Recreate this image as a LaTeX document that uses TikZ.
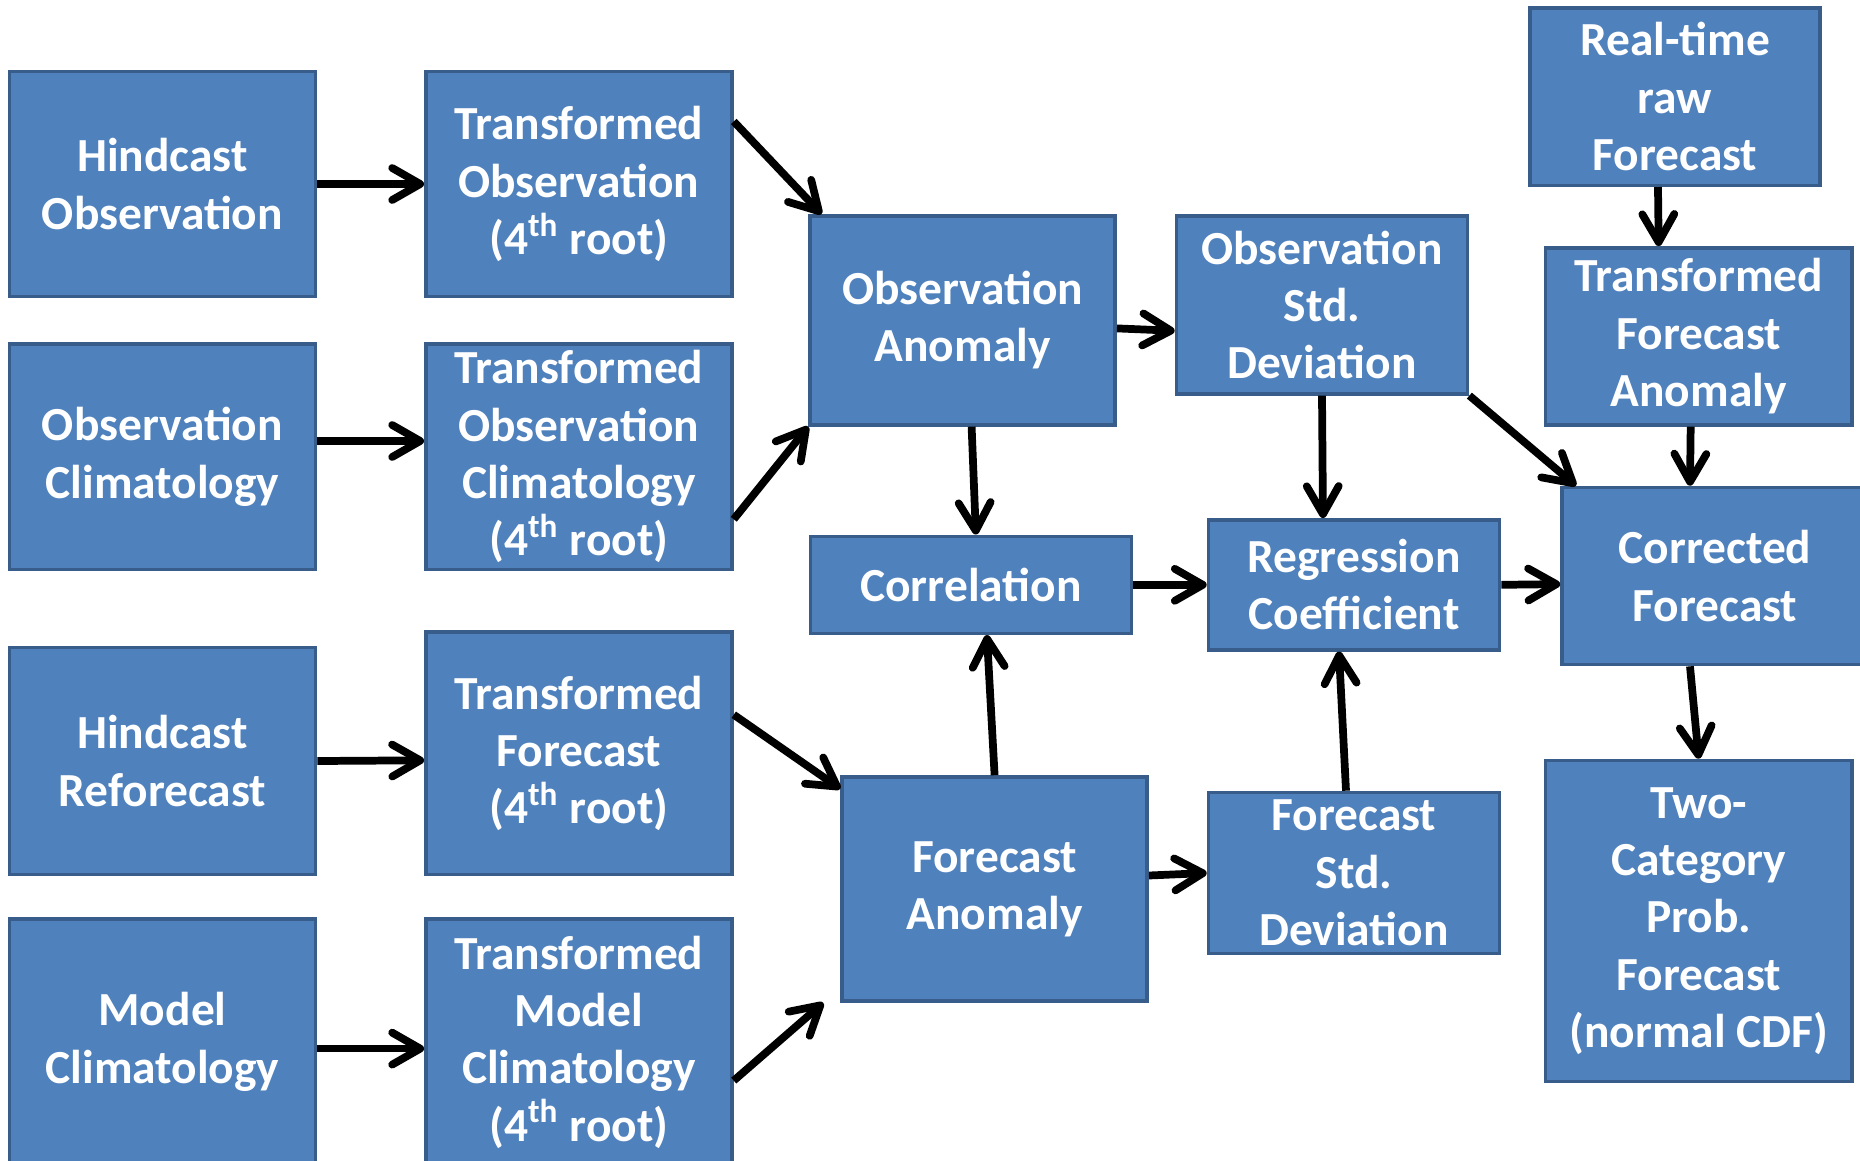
\documentclass[tikz,border=0pt]{standalone}
\usepackage{fontspec}
\setmainfont{Carlito}
\usetikzlibrary{arrows.meta}
\definecolor{boxfill}{RGB}{79,129,189}
\definecolor{boxline}{RGB}{56,93,138}

\begin{document}
\begin{tikzpicture}[x=0.01cm,y=-0.01cm,>={Straight Barb[length=0.28cm,width=0.32cm,round]}]
	\tikzstyle{box}=[rectangle,fill=boxfill,draw=boxline,line width=1pt,text=white,inner sep=0pt,align=center,font=\fontsize{13.5}{16.3}\selectfont\bfseries]
	\tikzstyle{arr}=[->,line width=2.2pt,black]
	\useasboundingbox (0,0) rectangle (1860,1160);
	% raw inputs
	\node[box,minimum width=3.06cm,minimum height=2.25cm](in-1) at (162.5,184){Hindcast\\Observation};
	\node[box,minimum width=3.06cm,minimum height=2.25cm](in-2) at (162.5,456.7){Observation\\Climatology};
	\node[box,minimum width=3.06cm,minimum height=2.27cm](in-3) at (162.5,761){Hindcast\\Reforecast};
	\node[box,minimum width=3.06cm,minimum height=2.46cm](in-4) at (162.5,1042){Model\\Climatology};
	% 4th root
	\node[box,minimum width=3.06cm,minimum height=2.25cm](tr-1) at (578.9,184){Transformed\\Observation\\(4\textsuperscript{th} root)};
	\node[box,minimum width=3.06cm,minimum height=2.25cm](tr-2) at (578.9,456.7){Transformed\\Observation\\Climatology\\(4\textsuperscript{th} root)};
	\node[box,minimum width=3.06cm,minimum height=2.42cm](tr-3) at (578.9,753.3){Transformed\\Forecast\\(4\textsuperscript{th} root)};
	\node[box,minimum width=3.06cm,minimum height=2.46cm](tr-4) at (578.9,1042){Transformed\\Model\\Climatology\\(4\textsuperscript{th} root)};
	% anomalies and statistics
	\node[box,minimum width=3.05cm,minimum height=2.09cm](obs-anom) at (962.6,320.3){Observation\\Anomaly};
	\node[box,minimum width=3.05cm,minimum height=2.24cm](fc-anom) at (994.6,889){Forecast\\Anomaly};
	\node[box,minimum width=3.21cm,minimum height=0.97cm](correl) at (970.9,584.8){Correlation};
	\node[box,minimum width=2.91cm,minimum height=1.78cm](obs-std) at (1322,304.8){Observation\\Std.\\Deviation};
	\node[box,minimum width=2.91cm,minimum height=1.61cm](fc-std) at (1354,873){Forecast\\Std.\\Deviation};
	\node[box,minimum width=2.91cm,minimum height=1.30cm](regr) at (1354,584.8){Regression\\Coefficient};
	% real-time part
	\node[box,minimum width=2.90cm,minimum height=1.77cm](raw-fc) at (1675,96.7){Real-time\\raw\\Forecast};
	\node[box,minimum width=3.06cm,minimum height=1.77cm](tr-fc-anom) at (1698.7,336.3){Transformed\\Forecast\\Anomaly};
	\node[box,minimum width=3.06cm,minimum height=1.77cm](corr-fc) at (1715,576){Corrected\\Forecast};
	\node[box,minimum width=3.06cm,minimum height=3.21cm](prob-fc) at (1698.7,921){Two-\\Category\\Prob.\\Forecast\\(normal CDF)};
	\foreach \i/\s/\t in {1/0/0,2/0.157/0.157,3/0/-0.07,4/-0.066/-0.066}{
	\draw[arr] ([yshift=\s cm]in-\i.east) -- ([yshift=\t cm]tr-\i.west);
	}
	\draw[arr] (tr-1.22.65) -- (obs-anom.143);
	\draw[arr] (tr-2.-22.5) -- (obs-anom.south west);
	\draw[arr] (tr-3.14.7) -- (fc-anom.147);
	\draw[arr] (tr-4.-14.2) -- ([xshift=-0.17cm]fc-anom.south west);
	\draw[arr] (obs-anom.-3.6) -- (obs-std.-170.2);
	\draw[arr] ([xshift=0.09cm]obs-anom.south) -- ([xshift=0.05cm]correl.north);
	\draw[arr] (fc-anom.north) -- ([xshift=0.16cm]correl.south);
	\draw[arr] (correl.east) -- (regr.west);
	\draw[arr] (obs-std.south) -- ([xshift=-0.31cm]regr.north);
	\draw[arr] ([xshift=-0.08cm]fc-std.north) -- ([xshift=-0.15cm]regr.south);
	\draw[arr] (fc-anom.5.5) -- (fc-std.west);
	\draw[arr] (obs-std.south east) -- (corr-fc.147.2);
	\draw[arr] (regr.east) -- (corr-fc.-177);
	\draw[arr] ([xshift=-0.17cm]raw-fc.south) -- ([xshift=-0.4cm]tr-fc-anom.north);
	\draw[arr] ([xshift=-0.08cm]tr-fc-anom.south) -- ([xshift=-0.25cm]corr-fc.north);
	\draw[arr] ([xshift=-0.25cm]corr-fc.south) -- (prob-fc.north);
\end{tikzpicture}
\end{document}
